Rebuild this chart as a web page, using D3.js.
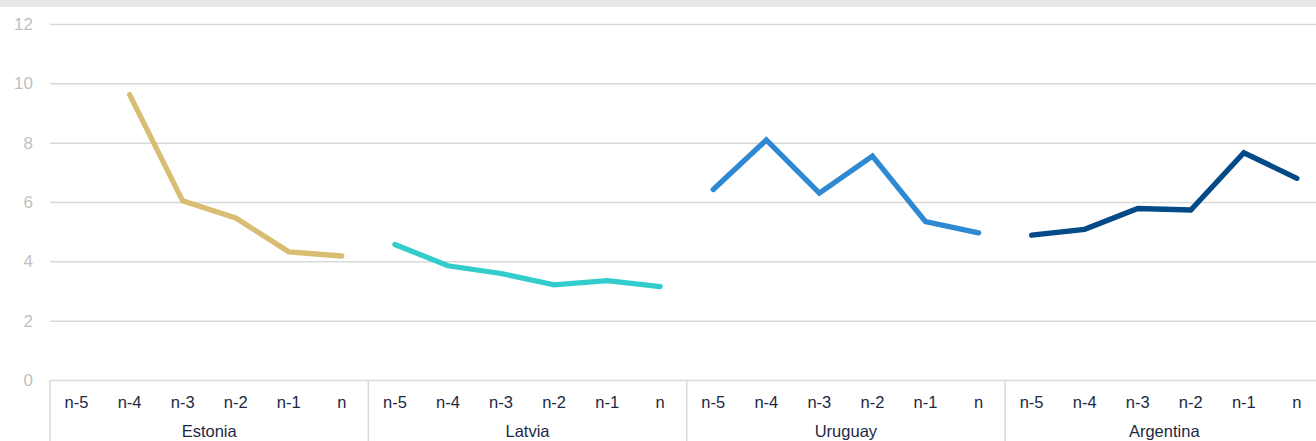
<!DOCTYPE html>
<html>
<head>
<meta charset="utf-8">
<script src="https://cdn.jsdelivr.net/npm/d3@7"></script>
<style>
  html, body { margin: 0; padding: 0; background: #ffffff; }
  svg { display: block; }
</style>
</head>
<body>
<svg id="chart" width="1316" height="441"></svg>
<script>
const groups = ["Estonia", "Latvia", "Uruguay", "Argentina"];
const periods = ["n-5", "n-4", "n-3", "n-2", "n-1", "n"];
const yTicks = [0, 2, 4, 6, 8, 10, 12];
const estonia   = [null, 9.62, 6.04, 5.46, 4.32, 4.18];
const latvia    = [4.57, 3.85, 3.59, 3.21, 3.35, 3.15];
const uruguay   = [6.42, 8.09, 6.3, 7.55, 5.34, 4.96];
const argentina = [4.88, 5.08, 5.78, 5.73, 7.66, 6.8];
const seriesValues = [estonia, latvia, uruguay, argentina];
const colors = ["#d9bd72", "#33cccc", "#2e88d2", "#034a87"];

(function () {
const svg = d3.select("#chart");
const W = 1316, H = 441;
const plotLeft = 50, plotTop = 24, plotBottom = 380;
const slot = 53.06;
const plotRight = plotLeft + slot * groups.length * periods.length;

// top band
svg.append("rect").attr("x", 0).attr("y", 0).attr("width", W).attr("height", 7).attr("fill", "#e7e7e7");

const keys = [];
groups.forEach(g => periods.forEach(p => keys.push(g + "|" + p)));

const x = d3.scaleBand().domain(keys).range([plotLeft, plotRight]).paddingInner(0).paddingOuter(0);
const y = d3.scaleLinear().domain([0, 12]).range([plotBottom, plotTop]);

// gridlines
const yAxis = d3.axisLeft(y).tickValues(yTicks).tickSize(-(plotRight - plotLeft)).tickPadding(17).tickFormat(d3.format("d"));
const gy = svg.append("g").attr("transform", `translate(${plotLeft},0)`).call(yAxis);
gy.select(".domain").remove();
gy.selectAll(".tick line").attr("stroke", "#d9d9d9").attr("stroke-width", 1.5);
gy.selectAll(".tick text").attr("fill", "#bfbfbf").attr("font-family", "Liberation Sans, Arial, sans-serif").attr("font-size", 17);

// x axis tick labels
const xAxis = d3.axisBottom(x).tickSize(0).tickPadding(0).tickFormat(k => k.split("|")[1]);
const gx = svg.append("g").attr("transform", `translate(0,${plotBottom})`).call(xAxis);
gx.select(".domain").remove();
gx.selectAll(".tick text").attr("dy", null).attr("y", 28)
  .attr("fill", "#1d2944").attr("font-family", "Liberation Sans, Arial, sans-serif").attr("font-size", 16.5);

// group dividers and labels
const gw = slot * periods.length;
groups.forEach((g, i) => {
  const x0 = x(g + "|" + periods[0]);
  svg.append("line").attr("x1", x0).attr("x2", x0).attr("y1", plotBottom).attr("y2", H)
    .attr("stroke", "#d9d9d9").attr("stroke-width", 1.5);
  svg.append("text").attr("x", x0 + gw / 2).attr("y", 437).attr("text-anchor", "middle")
    .attr("fill", "#1d2944").attr("font-family", "Liberation Sans, Arial, sans-serif").attr("font-size", 16.5)
    .text(g);
});

// lines
const line = d3.line()
  .defined(d => d.v !== null)
  .x(d => x(d.k) + x.bandwidth() / 2)
  .y(d => y(d.v));

seriesValues.forEach((vals, i) => {
  const data = vals.map((v, j) => ({ k: groups[i] + "|" + periods[j], v }));
  svg.append("path").datum(data).attr("d", line)
    .attr("fill", "none").attr("stroke", colors[i]).attr("stroke-width", 5.3)
    .attr("stroke-linecap", "round").attr("stroke-linejoin", "miter");
});
})();
</script>
</body>
</html>
